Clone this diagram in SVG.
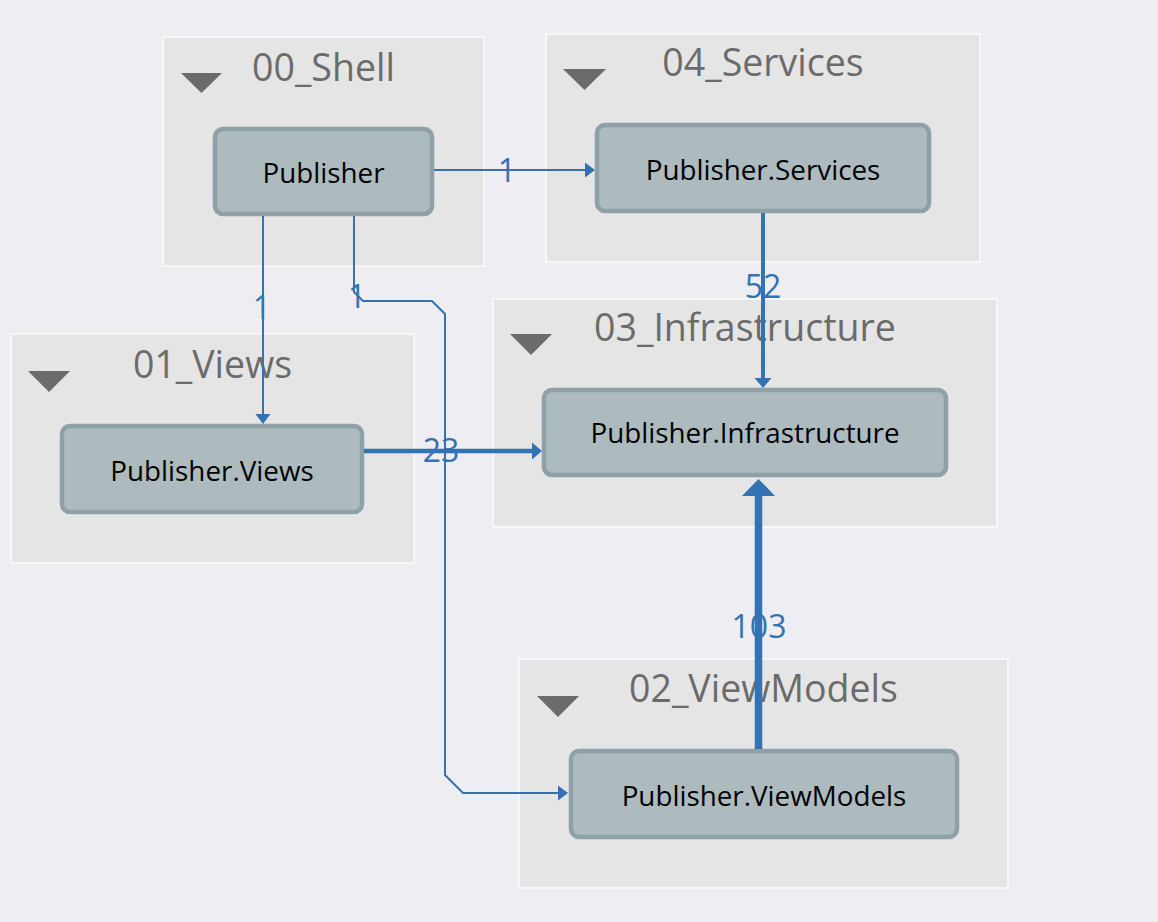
<svg xmlns="http://www.w3.org/2000/svg" width="1158" height="922" viewBox="0 0 1158 922">
<style>
.bg{fill:#eeedf2}
.grp{fill:#e5e5e5;stroke:#fbfbfb;stroke-width:1.5}
.tri{fill:#6b6b6b}
.gt{font-family:"Open Sans","Noto Sans",sans-serif;font-size:37.5px;fill:#6b6b6b;text-anchor:middle}
.node{fill:#adbbbf;stroke:#8fa0a7;stroke-width:4.5}
.nt{font-family:"Open Sans","Noto Sans",sans-serif;font-size:27.8px;fill:#000;text-anchor:middle}
.c{fill:none;stroke:#3373b3;stroke-linejoin:miter}
.lbl{font-family:"Open Sans","Noto Sans",sans-serif;font-size:32px;fill:#3373b3;text-anchor:middle}
</style>
<defs>
<marker id="a1" markerUnits="userSpaceOnUse" viewBox="0 -8 10 16" markerWidth="10" markerHeight="16" refX="0" refY="0" orient="auto"><path d="M0,-7.5 L10,0 L0,7.5 Z" fill="#3373b3"/></marker>
<marker id="a2" markerUnits="userSpaceOnUse" viewBox="0 -9 10 18" markerWidth="10" markerHeight="18" refX="0" refY="0" orient="auto"><path d="M0,-8.5 L10,0 L0,8.5 Z" fill="#3373b3"/></marker>
<marker id="a3" markerUnits="userSpaceOnUse" viewBox="0 -17 18 34" markerWidth="18" markerHeight="34" refX="0" refY="0" orient="auto"><path d="M0,-16.5 L17,0 L0,16.5 Z" fill="#3373b3"/></marker>
</defs>
<rect class="bg" x="0" y="0" width="1158" height="922"/>
<g id="group-00_Shell">
<rect class="grp" x="163" y="37" width="321" height="229"/>
<path class="tri" d="M181,73 L222,73 L201.5,93 Z"/>
<text class="gt" x="323.5" y="81">00_Shell</text>
</g>
<g id="group-04_Services">
<rect class="grp" x="546" y="34" width="434" height="228"/>
<path class="tri" d="M563,69 L606,69 L584.5,90 Z"/>
<text class="gt" x="763" y="76">04_Services</text>
</g>
<g id="group-03_Infrastructure">
<rect class="grp" x="493" y="299" width="504" height="228"/>
<path class="tri" d="M510,334 L552,334 L531,355 Z"/>
<text class="gt" x="745" y="341">03_Infrastructure</text>
</g>
<g id="group-01_Views">
<rect class="grp" x="11" y="334" width="403" height="229"/>
<path class="tri" d="M28,371 L70,371 L49,392 Z"/>
<text class="gt" x="212.5" y="378">01_Views</text>
</g>
<g id="group-02_ViewModels">
<rect class="grp" x="519" y="659" width="489" height="229"/>
<path class="tri" d="M537,696 L579,696 L558,717 Z"/>
<text class="gt" x="763.5" y="702">02_ViewModels</text>
</g>
<g id="node-Publisher">
<rect class="node" x="215" y="129" width="217" height="85" rx="8"/>
<text class="nt" x="323.5" y="183">Publisher</text>
</g>
<g id="node-Publisher.Services">
<rect class="node" x="597" y="125" width="332" height="86" rx="8"/>
<text class="nt" x="763" y="180">Publisher.Services</text>
</g>
<g id="node-Publisher.Infrastructure">
<rect class="node" x="544" y="390" width="402" height="85" rx="8"/>
<text class="nt" x="745" y="443">Publisher.Infrastructure</text>
</g>
<g id="node-Publisher.Views">
<rect class="node" x="62" y="426" width="300" height="86" rx="8"/>
<text class="nt" x="212" y="481">Publisher.Views</text>
</g>
<g id="node-Publisher.ViewModels">
<rect class="node" x="571" y="751" width="386" height="86" rx="8"/>
<text class="nt" x="764" y="806">Publisher.ViewModels</text>
</g>
<g id="connectors">
<path class="c" stroke-width="2" d="M434,170 L585,170" marker-end="url(#a1)"/>
<path class="c" stroke-width="2" d="M263,216 L263,414" marker-end="url(#a1)"/>
<path class="c" stroke-width="2" d="M354,216 L354,292 L363,301 L432,301 L445,314 L445,775 L463,793 L558,793" marker-end="url(#a1)"/>
<path class="c" stroke-width="4.5" d="M364,451 L532,451" marker-end="url(#a2)"/>
<path class="c" stroke-width="4" d="M763,213 L763,378" marker-end="url(#a2)"/>
<path class="c" stroke-width="7.5" d="M758.5,749 L758.5,496" marker-end="url(#a3)"/>
<text class="lbl" x="507" y="182">1</text>
<text class="lbl" x="262" y="319">1</text>
<text class="lbl" x="357" y="308">1</text>
<text class="lbl" x="441" y="462">23</text>
<text class="lbl" x="763" y="298">52</text>
<text class="lbl" x="759" y="638">103</text>
</g>
</svg>
